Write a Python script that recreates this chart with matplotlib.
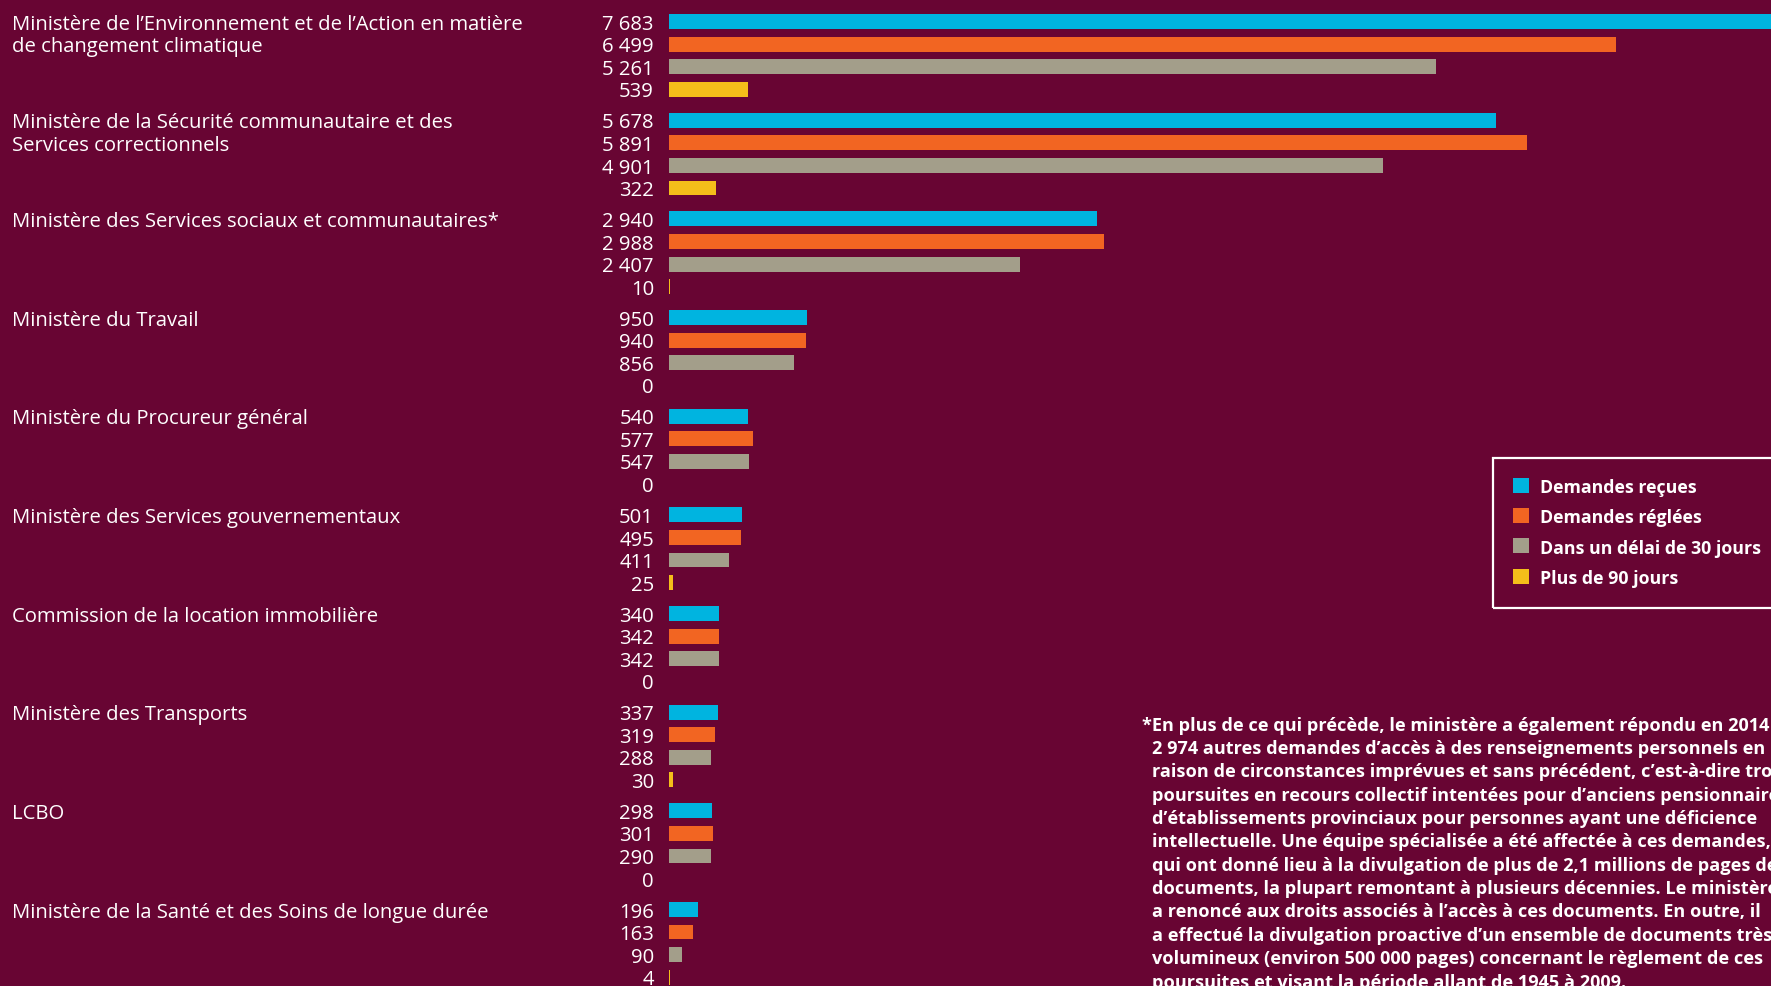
import matplotlib
matplotlib.use("Agg")
import matplotlib.pyplot as plt
from matplotlib.transforms import blended_transform_factory
from matplotlib.patches import Rectangle

# ---------------- data ----------------
categories = [
    "Ministère de l’Environnement et de l’Action en matière\nde changement climatique",
    "Ministère de la Sécurité communautaire et des\nServices correctionnels",
    "Ministère des Services sociaux et communautaires*",
    "Ministère du Travail",
    "Ministère du Procureur général",
    "Ministère des Services gouvernementaux",
    "Commission de la location immobilière",
    "Ministère des Transports",
    "LCBO",
    "Ministère de la Santé et des Soins de longue durée",
]
recues = [7683, 5678, 2940, 950, 540, 501, 340, 337, 298, 196]
reglees = [6499, 5891, 2988, 940, 577, 495, 342, 319, 301, 163]
delai30 = [5261, 4901, 2407, 856, 547, 411, 342, 288, 290, 90]
plus90 = [539, 322, 10, 0, 0, 25, 0, 30, 0, 4]

series_labels = ["Demandes reçues", "Demandes réglées",
                 "Dans un délai de 30 jours", "Plus de 90 jours"]
series_colors = ["#00B4E0", "#F26522", "#A39E8A", "#F4BE1A"]

footnote = [
    "*En plus de ce qui précède, le ministère a également répondu en 2014 à",
    "2 974 autres demandes d’accès à des renseignements personnels en",
    "raison de circonstances imprévues et sans précédent, c’est-à-dire trois",
    "poursuites en recours collectif intentées pour d’anciens pensionnaires",
    "d’établissements provinciaux pour personnes ayant une déficience",
    "intellectuelle. Une équipe spécialisée a été affectée à ces demandes,",
    "qui ont donné lieu à la divulgation de plus de 2,1 millions de pages de",
    "documents, la plupart remontant à plusieurs décennies. Le ministère",
    "a renoncé aux droits associés à l’accès à ces documents. En outre, il",
    "a effectué la divulgation proactive d’un ensemble de documents très",
    "volumineux (environ 500 000 pages) concernant le règlement de ces",
    "poursuites et visant la période allant de 1945 à 2009.",
]

# ---------------- style ----------------
BG = "#680533"
TXT = "#FFFFFF"
FONT = ["Open Sans", "DejaVu Sans"]
W, H, DPI = 1771, 987, 100
REG_SIZE = 14.6
LEG_SIZE = 12.8
NOTE_SIZE = 13.1

fig = plt.figure(figsize=(W / DPI, H / DPI), dpi=DPI, facecolor=BG)

x0_px = 669
px_per_unit = 0.1457
row_px = 22.59
group_step = 4.367
ax = fig.add_axes([x0_px / W, 0, 1 - x0_px / W, 1])
ax.set_facecolor(BG)
ax.set_xlim(0, (W - x0_px) / px_per_unit)
ax.set_ylim(H / row_px - 1.0, -1.0)
ax.axis("off")

def fmt(v):
    return f"{v:,}".replace(",", " ")

all_series = [recues, reglees, delai30, plus90]
tr = blended_transform_factory(fig.transFigure, ax.transData)
for g, cat in enumerate(categories):
    base = g * group_step
    for r, (vals, col) in enumerate(zip(all_series, series_colors)):
        y = base + r
        v = vals[g]
        ax.barh(y, v, height=0.66, color=col, linewidth=0)
        ax.annotate(fmt(v), xy=(0, y), xytext=(-10.8, -5.1),
                    textcoords="offset points", ha="right", va="baseline",
                    fontsize=REG_SIZE, family=FONT, color=TXT,
                    annotation_clip=False)
    for li, line in enumerate(cat.split("\n")):
        ax.annotate(line, xy=(12.4 / W, base + li), xycoords=tr,
                    xytext=(0, -5.1), textcoords="offset points",
                    ha="left", va="baseline", fontsize=REG_SIZE, family=FONT,
                    color=TXT, annotation_clip=False)

# ---------------- legend (manual) ----------------
def fy(py):
    return 1 - py / H

fig.patches.append(Rectangle((1493 / W, fy(609)), 400 / W, (609 - 459) / H,
                             transform=fig.transFigure, fill=False,
                             edgecolor=TXT, linewidth=1.6))
leg_centers = [486, 516, 546.5, 577]
for lab, col, cy in zip(series_labels, series_colors, leg_centers):
    fig.patches.append(Rectangle((1513 / W, fy(cy + 7.5)), 15.5 / W, 15 / H,
                                 transform=fig.transFigure, color=col,
                                 linewidth=0))
    fig.text(1540 / W, fy(cy + 7), lab, ha="left", va="baseline",
             fontsize=LEG_SIZE, fontweight="bold", family=FONT, color=TXT)

# ---------------- footnote ----------------
for i, line in enumerate(footnote):
    base_y = 730.7 + i * 23.35
    x = 1142 if i == 0 else 1152
    fig.text(x / W, fy(base_y), line, ha="left", va="baseline",
             fontsize=NOTE_SIZE, fontweight="bold", family=FONT, color=TXT)

fig.savefig("out.png", dpi=DPI, facecolor=BG)
